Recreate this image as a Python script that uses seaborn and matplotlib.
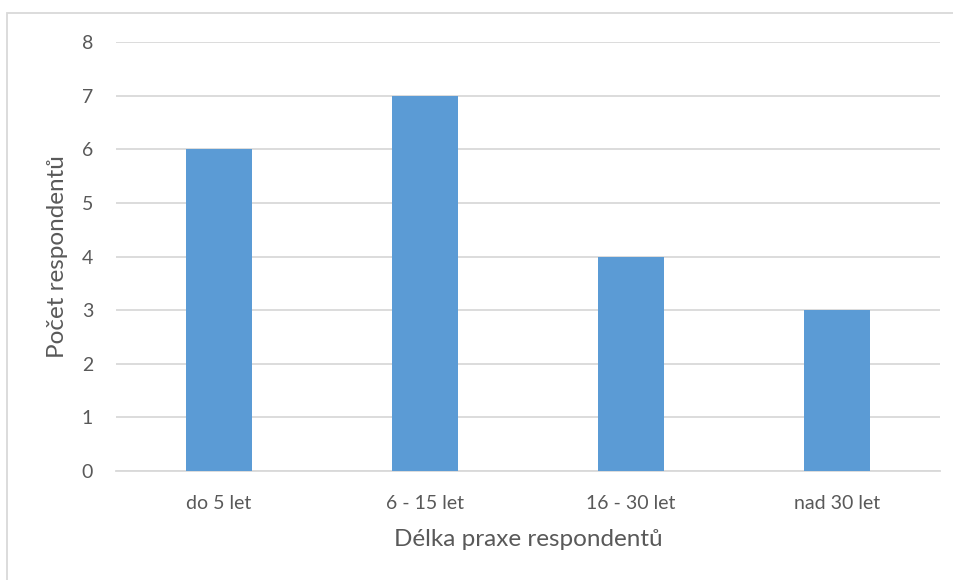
import matplotlib
matplotlib.use("Agg")
import matplotlib.pyplot as plt
import seaborn as sns
import pandas as pd

categories = ["do 5 let", "6 - 15 let", "16 - 30 let", "nad 30 let"]
counts = [6, 7, 4, 3]
y_ticks = [0, 1, 2, 3, 4, 5, 6, 7, 8]

sns.set_theme(style="white")
plt.rcParams["font.family"] = ["Lato", "DejaVu Sans"]

text_color = "#595959"
grid_color = "#D9D9D9"
bar_color = "#5B9BD5"

df = pd.DataFrame({"kategorie": categories, "pocet": counts})

fig = plt.figure(figsize=(9.54, 5.8), dpi=100)
ax = fig.add_axes([116 / 954, 1 - 471 / 580, 824 / 954, (471 - 42) / 580])

sns.barplot(data=df, x="kategorie", y="pocet", color=bar_color, width=0.316,
            saturation=1, linewidth=0, ax=ax, zorder=3)

ax.set_ylim(0, 8)
ax.set_xlim(-0.5, len(categories) - 0.5)
ax.set_yticks(y_ticks)
ax.yaxis.grid(True, color=grid_color, linewidth=1.3, zorder=0)
ax.set_axisbelow(True)
for side in ["top", "right", "left"]:
    ax.spines[side].set_visible(False)
ax.spines["bottom"].set_color(grid_color)
ax.spines["bottom"].set_linewidth(1.3)
ax.tick_params(axis="both", length=0, labelsize=14, colors=text_color)
ax.tick_params(axis="y", pad=16.5)
ax.tick_params(axis="x", pad=17)

ax.set_xlabel("Délka praxe respondentů", fontsize=17.5, color=text_color)
ax.set_ylabel("Počet respondentů", fontsize=17.5, color=text_color)
ax.xaxis.set_label_coords(0.5, -0.135)
ax.yaxis.set_label_coords(-0.058, 0.5)

# outer chart frame
frame = plt.Rectangle((7 / 954, -0.05), 1.1, 1 - 13 / 580 + 0.05,
                      transform=fig.transFigure, fill=False,
                      edgecolor="#D9D9D9", linewidth=1.3)
fig.add_artist(frame)

fig.savefig("out.png", dpi=100, facecolor="white")
